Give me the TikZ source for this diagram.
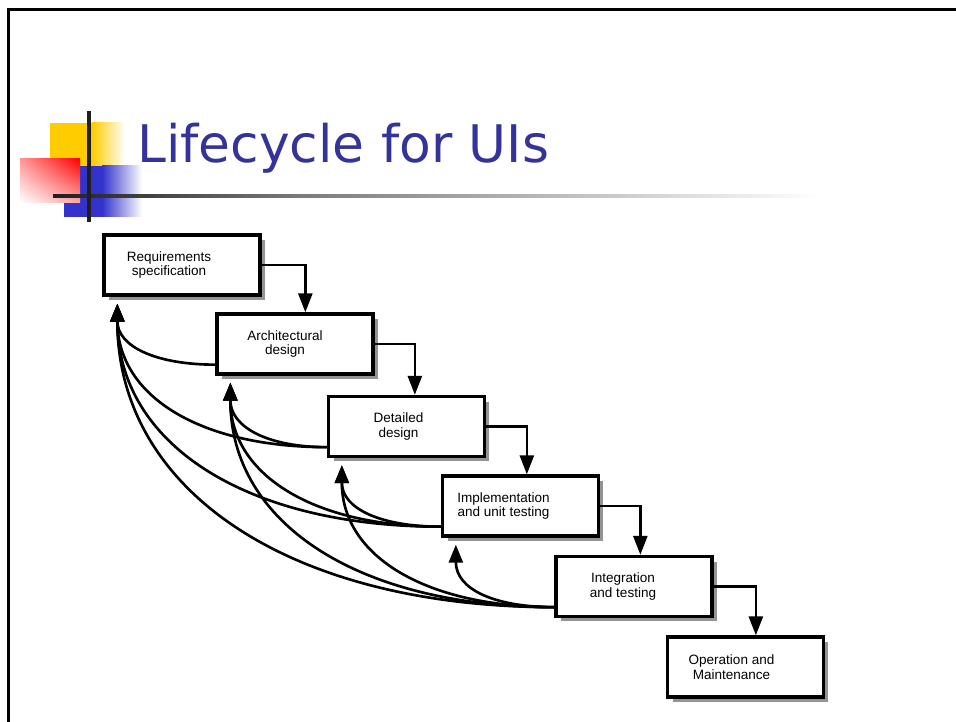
\documentclass[tikz,border=0pt]{standalone}
\usepackage{fontspec}
\setmainfont{Liberation Sans}
\newfontfamily\titlefont{DejaVu Sans}
\usetikzlibrary{arrows.meta,shadows,shadings}

\definecolor{titleblue}{HTML}{333399}
\definecolor{logoyellow}{HTML}{FFCC00}
\definecolor{logoblue}{HTML}{3333CC}

\begin{document}
\begin{tikzpicture}[x=0.02cm, y=-0.02cm,
  stage/.style={draw, fill=white, line width=1.9pt, minimum width=3.12cm, minimum height=1.2cm, inner sep=0pt,
    drop shadow={shadow xshift=0.1cm, shadow yshift=-0.1cm, fill=black!42, opacity=1}},
  stagetext/.style={align=center, inner sep=0pt, font=\fontsize{7.7}{8.3}\selectfont},
  flow/.style={line width=1.5pt, -{Triangle[width=0.28cm, length=0.38cm]}},
  back/.style={line width=1.5pt, -{Triangle[width=0.28cm, length=0.36cm]}}]

\useasboundingbox (0,0) rectangle (956,722);

% slide frame
\draw[line width=1.7pt] (8.5,730) -- (8.5,9.5) -- (970,9.5);

% logo
\fill[logoyellow] (50,123) rectangle (92,167);
\shade[left color=logoyellow, right color=white] (92,123) rectangle (125,167);
\fill[logoblue] (64,166) rectangle (102,217);
\shade[left color=logoblue, right color=white] (102,166) rectangle (142,217);
\shade[upper right=red, lower left=white, upper left=red!40, lower right=red!35] (20,159) rectangle (80,203);
\shade[left color=black!88, right color=black!52] (53,194.5) rectangle (300,197.5);
\shade[left color=black!52, right color=white] (300,194.5) rectangle (820,197.5);
\fill[black!88] (87,111) rectangle (91,222);

\node[anchor=base west, inner sep=0pt, text=titleblue, font=\titlefont\fontsize{29.5}{35}\selectfont] (title) at (137,163) {Lifecycle for UIs};

% stages
\node[stage] (req) at (182,265) {};
\node[stagetext] (reqlabel) at (169,265) {Requirements\\specification};
\node[stage] (arch) at (295,344) {};
\node[stagetext] (archlabel) at (285,344) {Architectural\\design};
\node[stage] (det) at (406.5,426.5) {};
\node[stagetext] (detlabel) at (398.5,426.5) {Detailed\\design};
\node[stage] (impl) at (520.5,506) {};
\node[stagetext] (impllabel) at (503.5,506) {Implementation\\and unit testing};
\node[stage] (integ) at (634,586.5) {};
\node[stagetext] (integlabel) at (623,586.5) {Integration\\and testing};
\node[stage] (oper) at (745.5,667) {};
\node[stagetext] (operlabel) at (731.5,667) {Operation and\\Maintenance};

% forward flow
\draw[flow] (req.east) -| ([shift={(90,0)}]arch.north west);
\draw[flow] (arch.east) -| ([shift={(88,0)}]det.north west);
\draw[flow] (det.east) -| ([shift={(86,0)}]impl.north west);
\draw[flow] (impl.east) -| ([shift={(86,0)}]integ.north west);
\draw[flow] (integ.east) -| ([shift={(90,0)}]oper.north west);

% feedback
\coordinate (reqin) at ([shift={(15,7)}]req.south west);
\coordinate (archin) at ([shift={(15,7)}]arch.south west);
\coordinate (detin) at ([shift={(15,7)}]det.south west);
\coordinate (implin) at ([shift={(15,7)}]impl.south west);
\coordinate (archout) at ([shift={(0,-11)}]arch.south west);
\coordinate (detout) at ([shift={(0,-11)}]det.south west);
\coordinate (implout) at ([shift={(0,-11)}]impl.south west);
\coordinate (integout) at ([shift={(0,-11)}]integ.south west);

\draw[back] (archout) .. controls +(-59,0) and +(0,43) .. (reqin);
\draw[back] (detout) .. controls +(-126,0) and +(0,93) .. (reqin);
\draw[back] (detout) .. controls +(-58,0) and +(0,45) .. (archin);
\draw[back] (implout) .. controls +(-194,0) and +(0,141) .. (reqin);
\draw[back] (implout) .. controls +(-126,0) and +(0,93) .. (archin);
\draw[back] (implout) .. controls +(-59,0) and +(0,44) .. (detin);
\draw[back] (integout) .. controls +(-262,0) and +(0,189) .. (reqin);
\draw[back] (integout) .. controls +(-194,0) and +(0,142) .. (archin);
\draw[back] (integout) .. controls +(-127,0) and +(0,92) .. (detin);
\draw[back] (integout) .. controls +(-59,0) and +(0,45) .. (implin);

\end{tikzpicture}
\end{document}
